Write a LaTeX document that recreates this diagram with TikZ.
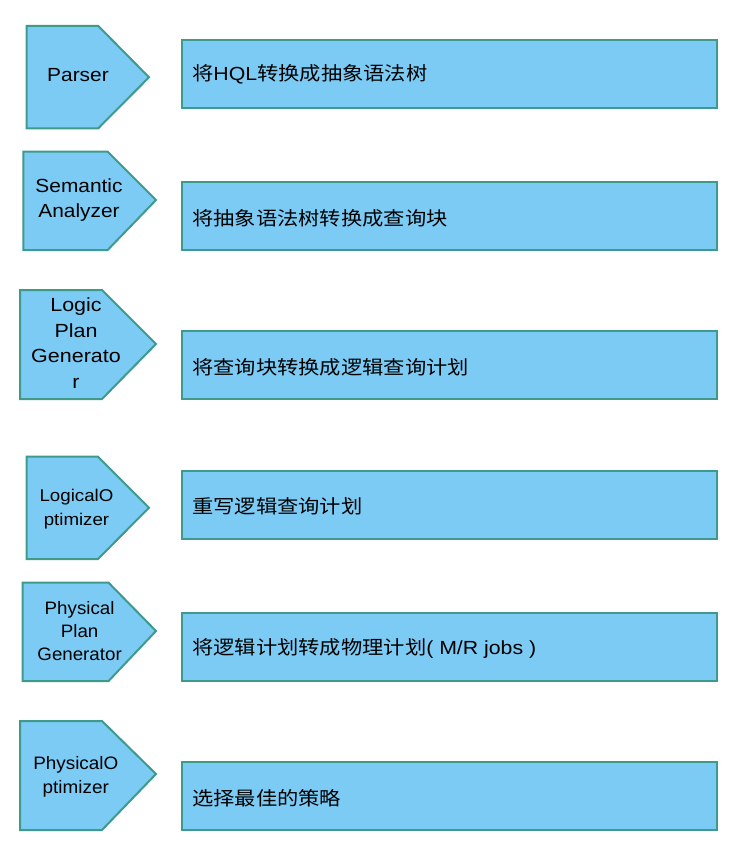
\documentclass[tikz,border=0pt]{standalone}
\usepackage{fontspec}
\usepackage{graphicx}
\setmainfont{Liberation Sans}
\newfontfamily\cjk{Noto Sans CJK SC}
\definecolor{boxfill}{HTML}{7CCBF5}
\definecolor{boxline}{HTML}{3E9A8A}
\newcommand{\wtxt}[2]{\scalebox{#1}[1]{\begin{tabular}{@{}c@{}}#2\end{tabular}}}
\tikzset{
  shp/.style={draw=boxline, fill=boxfill, line width=2pt, line join=miter},
  lbl/.style={align=center, inner sep=0pt, font=\fontsize{19}{24}\selectfont},
  desc/.style={anchor=west, inner sep=0pt, font=\fontsize{19}{24}\selectfont}
}
\begin{document}
\begin{tikzpicture}[x=1pt,y=-1pt]
\useasboundingbox (0,0) rectangle (734,850);
% row 1
\draw[shp] (26.7,26) -- (98.3,26) -- (149,77.3) -- (98.3,128.3) -- (26.7,128.3) -- cycle;
\draw[shp] (182,40) rectangle (717,107.7);
\node[lbl] (p1) at (78,77) {\wtxt{1.1}{Parser}};
\node[desc] (d1) at (192,74) {\scalebox{1.12}[1]{{\cjk 将}HQL{\cjk 转换成抽象语法树}}};
% row 2
\draw[shp] (23.4,151.7) -- (107.7,151.7) -- (156,200) -- (107.7,250) -- (23.4,250) -- cycle;
\draw[shp] (182,181.7) rectangle (717,250);
\node[lbl, font=\fontsize{19}{25}\selectfont] (p2) at (79,200.5) {\wtxt{1.1}{Semantic\\Analyzer}};
\node[desc] (d2) at (192,218.3) {\scalebox{1.12}[1]{\cjk 将抽象语法树转换成查询块}};
% row 3
\draw[shp] (20,290) -- (102,290) -- (156,344) -- (102,399) -- (20,399) -- cycle;
\draw[shp] (182,330.7) rectangle (717,399);
\node[lbl, font=\fontsize{19}{25.6}\selectfont] (p3) at (76,345) {\wtxt{1.13}{Logic\\Plan\\Generato\\r}};
\node[desc] (d3) at (192,367.3) {\scalebox{1.12}[1]{\cjk 将查询块转换成逻辑查询计划}};
% row 4
\draw[shp] (26.7,456.7) -- (98,456.7) -- (149,507.7) -- (98,559) -- (26.7,559) -- cycle;
\draw[shp] (182,470.7) rectangle (717,538.7);
\node[lbl, font=\fontsize{17}{23.7}\selectfont] (p4) at (76.5,509) {\wtxt{1.1}{LogicalO\\ptimizer}};
\node[desc] (d4) at (192,506.7) {\scalebox{1.12}[1]{\cjk 重写逻辑查询计划}};
% row 5
\draw[shp] (22.5,582.7) -- (108.6,582.7) -- (156,631) -- (108.6,681) -- (22.5,681) -- cycle;
\draw[shp] (182,612.7) rectangle (717,681);
\node[lbl, font=\fontsize{18}{23}\selectfont] (p5) at (79.6,633) {\wtxt{1.04}{Physical\\Plan\\Generator}};
\node[desc] (d5) at (192,648.3) {\scalebox{1.12}[1]{{\cjk 将逻辑计划转成物理计划}( M/R jobs )}};
% row 6
\draw[shp] (20,721) -- (102,721) -- (156,774) -- (102,830) -- (20,830) -- cycle;
\draw[shp] (182,761.7) rectangle (717,830);
\node[lbl, font=\fontsize{18}{24}\selectfont] (p6) at (75.8,776.3) {\wtxt{1.05}{PhysicalO\\ptimizer}};
\node[desc] (d6) at (192,798.3) {\scalebox{1.12}[1]{\cjk 选择最佳的策略}};
\end{tikzpicture}
\end{document}
